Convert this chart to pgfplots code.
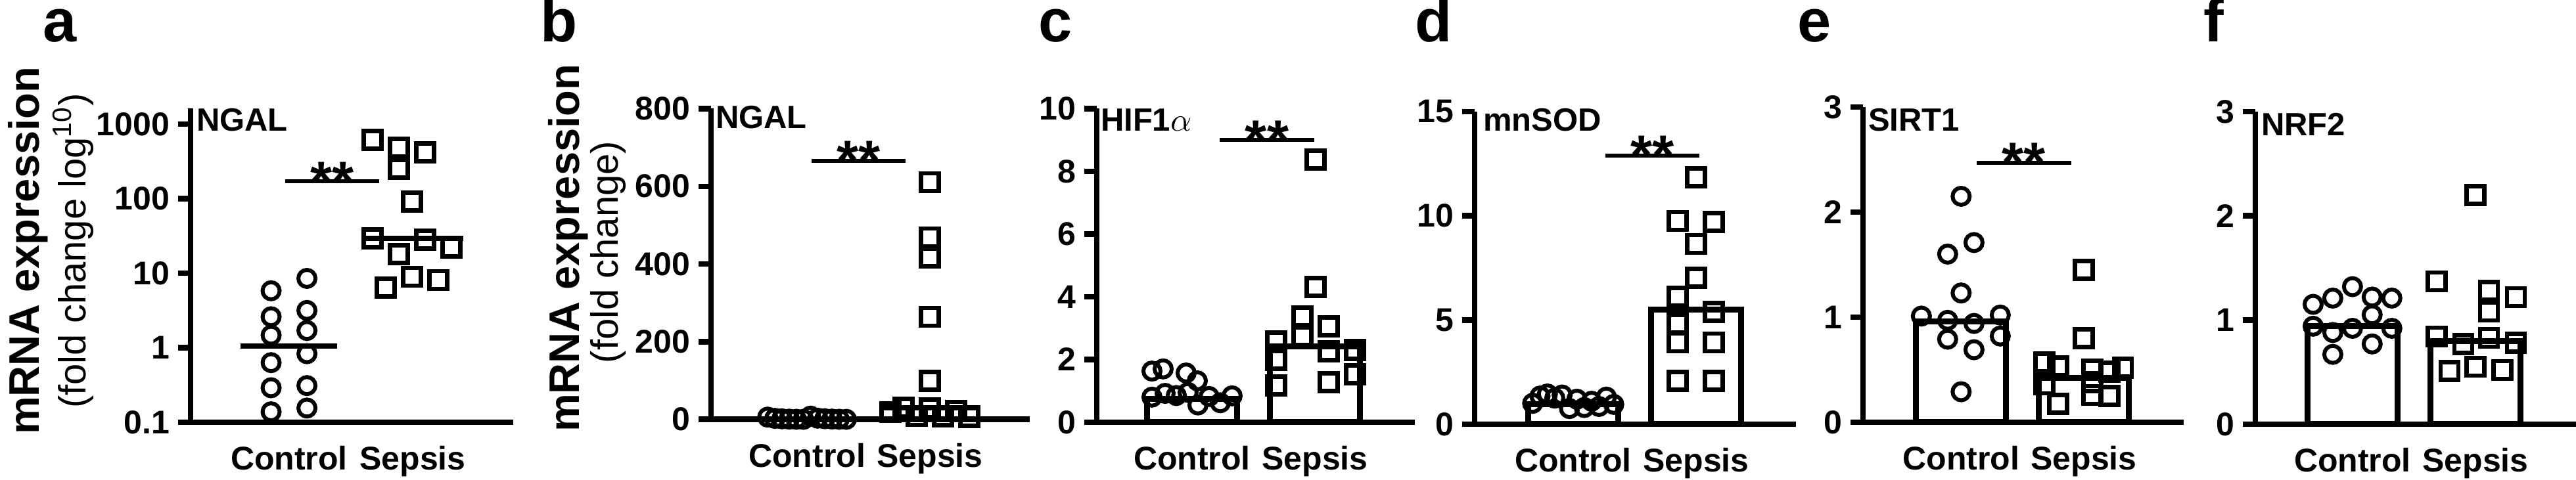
\documentclass[border=0pt]{standalone}
\usepackage{pgfplots}
\pgfplotsset{compat=1.18}
\usepackage{fontspec}
\setmainfont{Liberation Sans}

\pgfplotsset{
  panel/.style={
    scale only axis,
    anchor=south west,
    axis x line=bottom, axis y line=left,
    axis line style={-, line width=1.7pt},
    tick style={line width=1.7pt, black},
    tick align=outside,
    major tick length=3.8pt,
    xtick={0,1}, xticklabels={Control,Sepsis},
    xtick style={draw=none},
    tick label style={font=\fontsize{10}{12}\selectfont\bfseries},
    xticklabel style={anchor=base, inner sep=0pt, yshift=-10.8pt},
    yticklabel style={anchor=east, inner sep=0pt, xshift=-2.4pt},
    /pgf/number format/assume math mode=true,
    clip=false,
  },
  ctrl/.style={only marks, mark=o, mark size=2.6pt, mark options={line width=1.2pt, draw=black, fill=none}},
  seps/.style={only marks, mark=square, mark size=2.7pt, mark options={line width=1.3pt, draw=black, fill=none}},
  sig/.style={line width=1.2pt, black, no marks},
  med/.style={line width=1.6pt, black, no marks},
  barst/.style={ybar, bar width=0.733, fill=white, draw=black, line width=1.8pt},
}
\tikzset{stars/.style={font=\fontsize{17}{17}\selectfont\bfseries, anchor=base, inner sep=0pt, yshift=-5.8pt}}

\begin{document}
\begin{tikzpicture}
\useasboundingbox (0,0) rectangle (784pt,-146.2pt);

% ---------- panel letters ----------
\begin{scope}[every node/.style={anchor=base west, inner sep=0pt, font=\fontsize{18.4}{18}\selectfont\bfseries}]
\node at (12.8pt,-12.7pt) {a};
\node at (164.2pt,-12.7pt) {b};
\node at (315.8pt,-12.7pt) {c};
\node at (430.4pt,-12.7pt) {d};
\node at (546.8pt,-12.7pt) {e};
\node at (670.4pt,-12.7pt) {f};
\end{scope}

% ---------- y labels ----------
\node[rotate=90, anchor=base, inner sep=0pt, font=\fontsize{13}{13}\selectfont\bfseries] at (11.8pt,-76.4pt) {mRNA expression};
\node[rotate=90, anchor=base, inner sep=0pt, font=\fontsize{11.6}{12}\selectfont] at (26.1pt,-76.4pt) {(fold change log\textsuperscript{10})};
\node[rotate=90, anchor=base, inner sep=0pt, font=\fontsize{13}{13}\selectfont\bfseries] at (176.2pt,-75.6pt) {mRNA expression};
\node[rotate=90, anchor=base, inner sep=0pt, font=\fontsize{11.6}{12}\selectfont] at (188pt,-76.8pt) {(fold change)};

% ---------- gene labels ----------
\begin{scope}[every node/.style={anchor=base west, inner sep=0pt, font=\fontsize{9.8}{10}\selectfont\bfseries}]
\node at (59.6pt,-40pt) {NGAL};
\node at (217.6pt,-39.2pt) {NGAL};
\node at (334.8pt,-40pt) {HIF1$\alpha$};
\node at (451.2pt,-40pt) {mnSOD};
\node at (568.4pt,-40pt) {SIRT1};
\node at (688pt,-41.4pt) {NRF2};
\end{scope}

% ================= panel a =================
\begin{axis}[panel, at={(58pt,-128.6pt)}, width=98.2pt, height=95.5pt,
  ymode=log, ymin=0.1, ymax=1610, ytick={0.1,1,10,100,1000},
  yticklabels={0.1,1,10,100,1000}, yminorticks=false,
  xmin=-0.798, xmax=1.814]
\addplot[ctrl] table {
x y
-0.146 5.8
-0.146 2.6
-0.146 1.47
-0.146 0.63
-0.146 0.29
-0.146 0.138
0.144 8.5
0.144 3.16
0.144 1.7
0.144 0.83
0.144 0.31
0.144 0.155
};
\addplot[seps] table {
x y
0.676 615
0.888 482
0.888 251
1.101 417
0.995 91
0.676 29.3
0.888 18
1.101 28
1.314 22
0.995 8.9
0.782 6.4
1.207 8.1
};
\addplot[med] coordinates {(-0.394,1.05) (0.388,1.05)};
\addplot[med] coordinates {(0.59,29.5) (1.41,29.5)};
\addplot[sig] coordinates {(-0.032,171) (0.729,171)};
\node[stars] at (axis cs:0.349,171) {**};
\end{axis}

% ================= panel b =================
\begin{axis}[panel, at={(216.4pt,-127.74pt)}, width=97pt, height=94.64pt,
  ymin=0, ymax=800, ytick={0,200,400,600,800},
  yticklabels={0,200,400,600,800},
  xmin=-0.781, xmax=1.813]
\addplot[ctrl] table {
x y
-0.32 5.8
-0.262 2.6
-0.204 1.47
-0.145 0.63
-0.087 0.29
-0.029 0.138
0.029 8.5
0.087 3.16
0.145 1.7
0.204 0.83
0.262 0.31
0.32 0.155
};
\addplot[seps] table {
x y
1 611
1 469
1 417
1 264
1 99
0.786 29.5
1 28
1.214 22
0.679 18.5
0.893 8.9
1.107 8.1
1.321 6.4
};
\addplot[med] coordinates {(-0.39,1.05) (0.39,1.05)};
\addplot[med] coordinates {(0.59,29.5) (1.41,29.5)};
\addplot[sig] coordinates {(0.037,666) (0.802,666)};
\node[stars] at (axis cs:0.42,666) {**};
\end{axis}

% ================= panel c =================
\begin{axis}[panel, at={(333.8pt,-128.6pt)}, width=96.8pt, height=95.5pt,
  ymin=0, ymax=10, ytick={0,2,4,6,8,10},
  yticklabels={0,2,4,6,8,10},
  xmin=-0.775, xmax=1.813]
\addplot[barst] coordinates {(0,0.75) (1,2.41)};
\addplot[ctrl] table {
x y
-0.326 1.63
-0.235 1.70
-0.048 1.57
0.043 1.32
-0.326 0.80
-0.219 0.92
-0.128 0.85
-0.032 0.95
0.048 0.55
0.139 0.82
0.23 0.62
0.326 0.84
};
\addplot[seps] table {
x y
1.005 8.38
1.005 4.31
0.898 3.37
0.898 2.74
1.112 3.06
0.684 2.58
0.684 1.99
0.684 1.17
1.112 2.26
1.112 1.28
1.326 2.30
1.326 1.53
};
\addplot[sig] coordinates {(0.225,9.0) (0.995,9.0)};
\node[stars] at (axis cs:0.61,9.0) {**};
\end{axis}

% ================= panel d =================
\begin{axis}[panel, at={(448.8pt,-129.2pt)}, width=97.8pt, height=95.2pt,
  ymin=0, ymax=15, ytick={0,5,10,15},
  yticklabels={0,5,10,15},
  xmin=-0.802, xmax=1.813]
\addplot[barst] coordinates {(0,0.97) (1,5.49)};
\addplot[ctrl] table {
x y
-0.33 1.0
-0.27 1.35
-0.21 1.45
-0.15 1.25
-0.09 1.4
-0.03 0.75
0.03 1.2
0.09 0.8
0.15 1.1
0.21 0.85
0.27 1.3
0.33 0.95
};
\addplot[seps] table {
x y
1 11.85
0.85 9.75
1.144 9.7
1 8.65
1 7.03
0.85 6.12
1.144 5.39
0.85 4.82
0.85 3.92
1.144 3.92
0.85 2.08
1.144 2.08
};
\addplot[sig] coordinates {(0.262,12.9) (1.027,12.9)};
\node[stars] at (axis cs:0.645,12.9) {**};
\end{axis}

% ================= panel e =================
\begin{axis}[panel, at={(567pt,-128.6pt)}, width=97.6pt, height=96pt,
  ymin=0, ymax=3, ytick={0,1,2,3},
  yticklabels={0,1,2,3},
  xmin=-0.80, xmax=1.815]
\addplot[barst] coordinates {(0,0.96) (1,0.42)};
\addplot[ctrl] table {
x y
0 2.15
0.105 1.71
-0.11 1.60
0 1.23
-0.324 1.01
0.319 1.02
-0.11 0.97
0.105 0.94
-0.11 0.79
0.319 0.82
0.105 0.69
0 0.29
};
\addplot[seps] table {
x y
1 1.45
1 0.80
0.68 0.57
0.79 0.53
1.07 0.50
1.21 0.48
1.32 0.52
0.68 0.36
1.07 0.38
0.79 0.175
1.07 0.26
1.21 0.25
};
\addplot[sig] coordinates {(0.126,2.47) (0.898,2.47)};
\node[stars] at (axis cs:0.512,2.47) {**};
\end{axis}

% ================= panel f =================
\begin{axis}[panel, at={(686.4pt,-129.2pt)}, width=97.6pt, height=95.2pt,
  ymin=0, ymax=3, ytick={0,1,2,3},
  yticklabels={0,1,2,3},
  xmin=-0.79, xmax=1.818]
\addplot[barst] coordinates {(0,0.94) (1,0.80)};
\addplot[ctrl] table {
x y
-0.32 1.15
-0.16 1.21
0 1.32
0.16 1.22
0.32 1.21
0.16 1.05
-0.32 0.94
-0.16 0.88
0 0.92
0.32 0.92
0.16 0.77
-0.16 0.67
};
\addplot[seps] table {
x y
0.684 1.37
1 2.20
1.11 1.28
1.11 1.08
1.33 1.22
0.684 0.84
0.90 0.77
1.11 0.83
1.33 0.78
0.79 0.51
1 0.55
1.22 0.52
};
\end{axis}
\end{tikzpicture}
\end{document}
